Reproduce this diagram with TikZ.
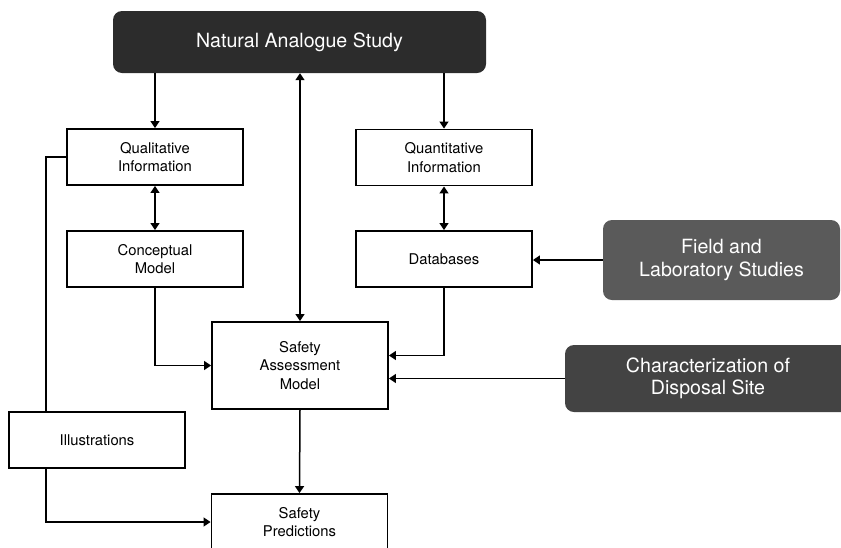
\documentclass[tikz,border=0pt]{standalone}
\usepackage{fontspec}
\setmainfont{TeX Gyre Heros}
\usetikzlibrary{positioning, calc, arrows.meta}
\definecolor{Dark}{HTML}{2C2C2C}
\definecolor{Mid}{HTML}{434343}
\definecolor{Soft}{HTML}{5A5A5A}
\tikzset{
    boxnode/.style={rectangle, draw=black, line width=1.9pt, fill=white, align=center,
        minimum width=176pt, minimum height=56pt, inner sep=2pt, font=\fontsize{14.8}{18.2}\selectfont},
    darknode/.style={rectangle, rounded corners=9pt, fill=Dark, text=white, align=center,
        inner sep=0pt, font=\fontsize{19.6}{22.5}\selectfont},
    link/.style={line width=1.5pt, color=black},
}

\begin{document}
\begin{tikzpicture}[
        x=1pt, y=-1pt,
        % Frecce a triangolo pieno
        arr/.style={link, -{Triangle[length=7pt, width=9pt]}},
        arrboth/.style={link, {Triangle[length=7pt, width=9pt]}-{Triangle[length=7pt, width=9pt]}}
    ]

        \useasboundingbox (0,0) rectangle (841,547);
        \clip (0,0) rectangle (841,547);

        % 1. Sorgenti (box scuri)
        \node[darknode, minimum width=373pt, minimum height=62pt] (nas) at (299.5,42)
            {Natural Analogue Study};
        \node[darknode, fill=Soft, minimum width=237pt, minimum height=80pt] (field) at (721.5,260)
            {Field and\\Laboratory Studies};
        \node[darknode, fill=Mid, minimum width=286pt, minimum height=67pt] (site) at (708,378.5)
            {Characterization of\\Disposal Site};

        % 2. Informazioni e modelli
        \node[boxnode] (qual) at (155,157) {Qualitative\\Information};
        \node[boxnode] (quant) at (444,157.5) {Quantitative\\Information};
        \node[boxnode] (concept) at (155,259) {Conceptual\\Model};
        \node[boxnode] (db) at (444,259) {Databases};

        % Modello di sicurezza
        \node[boxnode, minimum height=87pt] (sam) at (300,365.5) {Safety\\Assessment\\Model};
        \node[boxnode] (illus) at (97,440) {Illustrations};
        \node[boxnode] (pred) at (299.5,522) {Safety\\Predictions};

        % Punti di passaggio della linea a sinistra
        \coordinate (illtop) at ([xshift=-51pt]illus.north);
        \coordinate (illbot) at ([xshift=-51pt]illus.south);

        % --- 3. Collegamenti ---
        \draw[arr] (nas.south -| qual.north) -- (qual.north);
        \draw[arr] (nas.south -| quant.north) -- (quant.north);
        \draw[arrboth] (sam.north) -- (sam.north |- nas.south);

        \draw[arrboth] (qual.south) -- (concept.north);
        \draw[arrboth] (quant.south) -- (db.north);
        \draw[arr] (field.west) -- (field.west -| db.east);

        \draw[arr] (concept.south) |- (sam.west);
        \draw[arr] (db.south) |- ([yshift=10pt]sam.east);
        \draw[arr] (site.west) -- (site.west -| sam.east);

        \draw[link] (qual.west) -| (illtop);
        \draw[arr] (illbot) |- (pred.west);
        \draw[arr] (sam.south) -- (pred.north);

    \end{tikzpicture}
\end{document}
